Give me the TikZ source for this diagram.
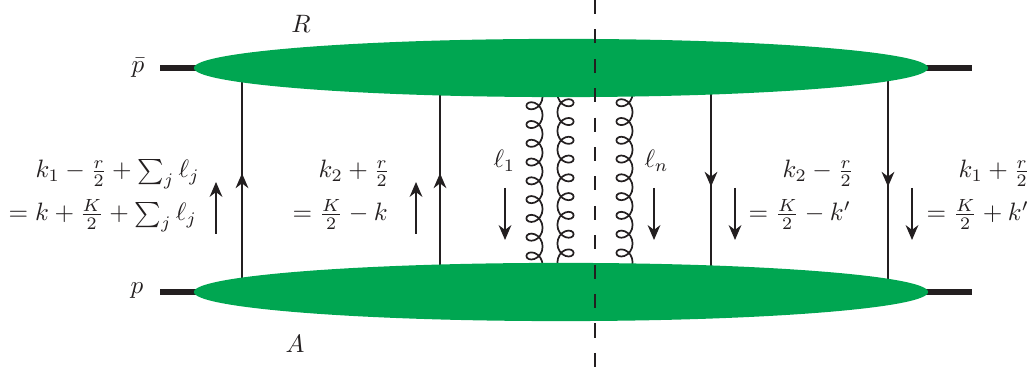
\documentclass[tikz,border=0pt]{standalone}
\usepackage{amsmath}
\usetikzlibrary{arrows.meta,shapes.geometric,decorations.pathmorphing,decorations.markings}
\definecolor{blobgreen}{HTML}{00A651}
\definecolor{ink}{HTML}{231F20}
\begin{document}
\begin{tikzpicture}[x=0.0165cm,y=0.0165cm,>={Stealth[length=7pt,width=6pt]},color=ink,
  blob/.style={ellipse,fill=blobgreen,inner sep=0pt,minimum width=12.11cm,minimum height=0.96cm},
  stub/.style={line width=2.4pt},
  quark/.style={line width=0.8pt,postaction={decorate},
    decoration={markings,mark=at position 0.53 with {\arrow{>}}}},
  mom/.style={->,line width=0.8pt},
  gluon/.style={line width=0.8pt,decorate,decoration={coil,aspect=0.95,segment length=8.81pt,amplitude=3.8pt}},
  gluonm/.style={line width=0.8pt,decorate,decoration={coil,aspect=0.95,segment length=8.81pt,amplitude=3.8pt,mirror}},
  cut/.style={line width=0.9pt,dash pattern=on 6.6pt off 7.2pt},
  sym/.style={scale=1.18,transform shape},
  lab/.style={sym,anchor=base west,inner sep=0pt}]
\useasboundingbox (0,0) rectangle (1034,376);
% ================ gluons, ends hidden under the blobs ================
\coordinate (g1a) at (534.5,292);
\coordinate (g1b) at (534.5,92);
\coordinate (g2a) at (565.5,295);
\coordinate (g2b) at (565.5,95);
\coordinate (g3a) at (624.5,295);
\coordinate (g3b) at (624.5,95);
\draw[gluon] (g1a) -- (g1b);
\draw[gluonm] (g2a) -- (g2b);
\draw[gluon] (g3a) -- (g3b);
% ================ quark lines ================
\foreach \n/\x in {qa/242,qb/440}{
  \coordinate (\n top) at (\x,308);
  \coordinate (\n bot) at (\x,84);
  \draw[quark] (\n bot) -- (\n top);
}
\foreach \n/\x in {qc/711,qd/888}{
  \coordinate (\n top) at (\x,308);
  \coordinate (\n bot) at (\x,84);
  \draw[quark] (\n top) -- (\n bot);
}
% ================ external legs and blobs ================
\coordinate (ctrR) at (561,308);
\coordinate (ctrA) at (561,84);
\coordinate (pbarin) at (160,308);
\coordinate (pbarout) at (972,308);
\coordinate (pin) at (160,84);
\coordinate (pout) at (972,84);
\draw[stub] (pbarin) -- (ctrR);
\draw[stub] (ctrR) -- (pbarout);
\draw[stub] (pin) -- (ctrA);
\draw[stub] (ctrA) -- (pout);
\node[blob] (ampR) at (ctrR) {};
\node[blob] (ampA) at (ctrA) {};
% ================ cut ================
\coordinate (cuta) at (595,376);
\coordinate (cutb) at (595,8);
\draw[cut] (cuta) -- (cutb);
% ================ momentum arrows ================
\foreach \n/\x in {ma/216,mb/416}{
  \coordinate (\n a) at (\x,142);
  \coordinate (\n b) at (\x,194);
  \draw[mom] (\n a) -- (\n b);
}
\foreach \n/\x in {mc/505,md/654,me/735,mf/912}{
  \coordinate (\n a) at (\x,188);
  \coordinate (\n b) at (\x,136);
  \draw[mom] (\n a) -- (\n b);
}
% ================ labels ================
\node[sym] (lpbar) at (138,308) {$\bar p$};
\node[sym] (lp) at (137,85) {$p$};
\node[sym] (lR) at (301,352) {$R$};
\node[sym] (lA) at (295,32) {$A$};
\node[lab] (la1) at (35,198) {$k_1-\frac{r}{2}+\sum_j\ell_j$};
\node[lab] (la2) at (8,155) {$=k+\frac{K}{2}+\sum_j\ell_j$};
\node[lab] (lb1) at (318,198) {$k_2+\frac{r}{2}$};
\node[lab] (lb2) at (292,155) {$=\frac{K}{2}-k$};
\node[lab] (lc1) at (493,208) {$\ell_1$};
\node[lab] (ld1) at (644,208) {$\ell_n$};
\node[lab] (le1) at (782,198) {$k_2-\frac{r}{2}$};
\node[lab] (le2) at (748,155) {$=\frac{K}{2}-k'$};
\node[lab] (lf1) at (958,198) {$k_1+\frac{r}{2}$};
\node[lab] (lf2) at (926,155) {$=\frac{K}{2}+k'$};
\end{tikzpicture}
\end{document}
